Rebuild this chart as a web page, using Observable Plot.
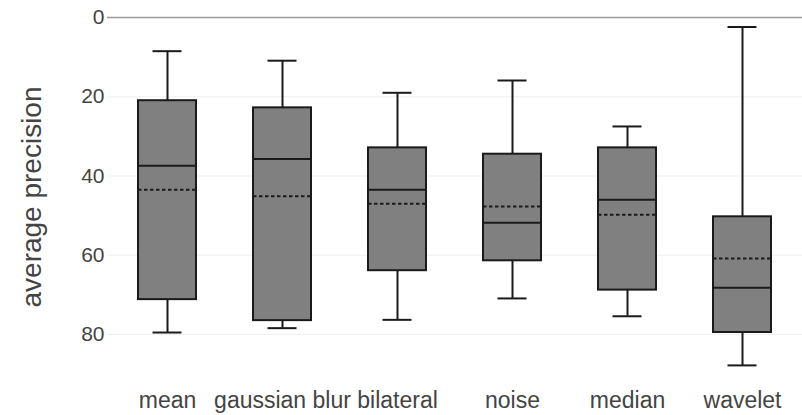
<!DOCTYPE html>
<html>
<head>
<meta charset="utf-8">
<script src="https://cdn.jsdelivr.net/npm/d3@7"></script>
<script src="https://cdn.jsdelivr.net/npm/@observablehq/plot@0.6"></script>
<style>
  html, body { margin: 0; padding: 0; background: #fff; }
  #chart svg { display: block; }
</style>
</head>
<body>
<div id="chart"></div>
<script>
// Denoising methods and their average-precision distributions
const methods = ["mean", "gaussian blur", "bilateral", "noise", "median", "wavelet"];
const whiskerLow = [8.5, 10.9, 19.0, 15.9, 27.5, 2.4];
const quartile1 = [21.0, 22.8, 32.9, 34.5, 32.9, 50.3];
const medians = [37.4, 35.7, 43.5, 51.8, 46.0, 68.2];
const means = [43.5, 45.1, 47.0, 47.7, 49.8, 60.8];
const quartile3 = [71.2, 76.5, 63.9, 61.4, 68.8, 79.5];
const whiskerHigh = [79.5, 78.4, 76.3, 70.9, 75.4, 87.8];
const yTicks = [0, 20, 40, 60, 80];
const gridTicks = [20, 40, 60, 80];

const rows = methods.map((method, i) => ({
  method,
  lo: whiskerLow[i],
  q1: quartile1[i],
  median: medians[i],
  mean: means[i],
  q3: quartile3[i],
  hi: whiskerHigh[i]
}));

const ink = "#1a1a1a";
const textColor = "#444";
const capInset = 14.5;

const chart = Plot.plot({
  width: 802,
  height: 415,
  marginLeft: 107,
  marginRight: 0,
  marginTop: 17,
  marginBottom: 30,
  style: { fontFamily: "'Liberation Sans', Arial, sans-serif", background: "#fff" },
  x: { type: "band", domain: methods, range: [107, 802], paddingInner: 0.5, paddingOuter: 0.25 },
  y: { domain: [0, 80], range: [17, 334] },
  marks: [
    Plot.ruleY(gridTicks, { stroke: "#efefef", strokeWidth: 1 }),
    Plot.ruleY([0], { stroke: "#9a9a9a", strokeWidth: 1.5 }),
    Plot.axisY({ ticks: yTicks, tickSize: 0, tickPadding: 3, fontSize: 21, color: textColor, label: null }),
    Plot.axisX({ tickSize: 0, tickPadding: 6, fontSize: 23, color: textColor, label: null }),
    Plot.text(["average precision"], {
      text: d => d,
      frameAnchor: "left",
      rotate: -90,
      textAnchor: "middle",
      dx: -75,
      dy: -4.5,
      fontSize: 28,
      fill: textColor
    }),
    // whiskers and caps
    Plot.ruleX(rows, { x: "method", y1: "lo", y2: "hi", stroke: ink, strokeWidth: 2 }),
    Plot.tickY(rows, { x: "method", y: "lo", insetLeft: capInset, insetRight: capInset, stroke: ink, strokeWidth: 2 }),
    Plot.tickY(rows, { x: "method", y: "hi", insetLeft: capInset, insetRight: capInset, stroke: ink, strokeWidth: 2 }),
    // interquartile boxes
    Plot.barY(rows, { x: "method", y1: "q1", y2: "q3", fill: "#808080", stroke: ink, strokeWidth: 2 }),
    // median (solid) and mean (dashed)
    Plot.tickY(rows, { x: "method", y: "median", stroke: ink, strokeWidth: 2 }),
    Plot.tickY(rows, { x: "method", y: "mean", stroke: ink, strokeWidth: 2, strokeDasharray: "3.5,2.5" })
  ]
});

document.getElementById("chart").appendChild(chart);
</script>
</body>
</html>
